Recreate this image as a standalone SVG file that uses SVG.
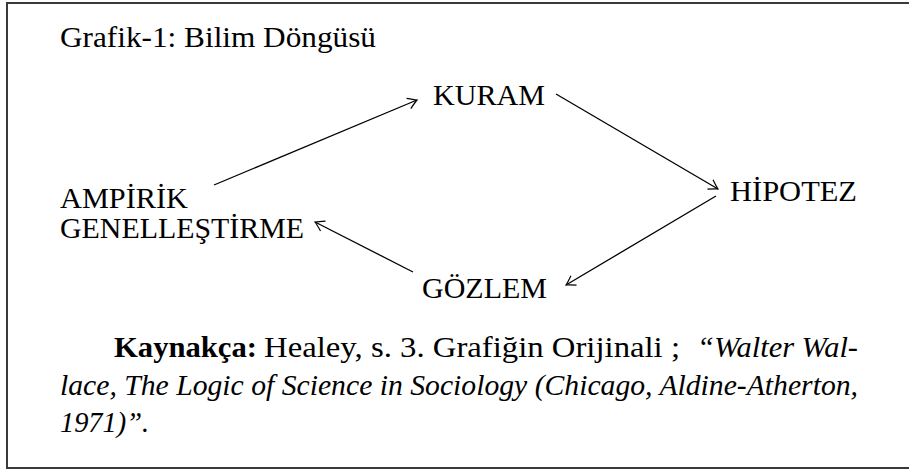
<svg xmlns="http://www.w3.org/2000/svg" width="909" height="470" viewBox="0 0 909 470">
<style>
text{font-family:"Liberation Serif",serif;fill:#000}
.b{font-weight:bold}
.i{font-style:italic}
.edge{stroke:#000;stroke-width:1.3;fill:none}
</style>
<defs>
<marker id="ah" markerUnits="userSpaceOnUse" markerWidth="20" markerHeight="20" refX="0" refY="0" viewBox="-12 -10 14 20" orient="auto" overflow="visible">
<path d="M -9 -5.5 Q -3 -1.5 0 0 Q -3 1.5 -9 5.5" fill="none" stroke="#000" stroke-width="1.2"/>
</marker>
</defs>
<rect x="7" y="3" width="910" height="465" fill="#fff" stroke="#3a3a3a" stroke-width="2"/>
<g font-size="29.5">
<text id="title" x="60" y="47" textLength="316" lengthAdjust="spacingAndGlyphs">Grafik-1: Bilim Döngüsü</text>
<g id="kuram"><text x="433" y="105" textLength="112" lengthAdjust="spacingAndGlyphs">KURAM</text></g>
<g id="hipotez"><text x="730" y="201" textLength="127" lengthAdjust="spacingAndGlyphs">HİPOTEZ</text></g>
<g id="ampirik"><text x="60" y="208" textLength="128" lengthAdjust="spacingAndGlyphs">AMPİRİK</text><text x="60" y="238" textLength="244" lengthAdjust="spacingAndGlyphs">GENELLEŞTİRME</text></g>
<g id="gozlem"><text x="422" y="298" textLength="125" lengthAdjust="spacingAndGlyphs">GÖZLEM</text></g>
</g>
<g id="connectors">
<line class="edge" x1="214" y1="185" x2="417" y2="100" marker-end="url(#ah)"/>
<line class="edge" x1="556" y1="94" x2="718" y2="189" marker-end="url(#ah)"/>
<line class="edge" x1="716" y1="196" x2="566" y2="285" marker-end="url(#ah)"/>
<line class="edge" x1="413" y1="272" x2="315" y2="222" marker-end="url(#ah)"/>
</g>
<g id="caption" font-size="29.5">
<text class="b" x="114" y="357" textLength="143" lengthAdjust="spacingAndGlyphs">Kaynakça:</text>
<text x="264" y="357" textLength="416" lengthAdjust="spacingAndGlyphs">Healey, s. 3. Grafiğin Orijinali ;</text>
<text class="i" x="697" y="357" textLength="161" lengthAdjust="spacingAndGlyphs">“Walter Wal-</text>
<text class="i" x="60" y="395" textLength="798" lengthAdjust="spacingAndGlyphs">lace, The Logic of Science in Sociology (Chicago, Aldine-Atherton,</text>
<text class="i" x="60" y="432" textLength="89" lengthAdjust="spacingAndGlyphs">1971)”.</text>
</g>
</svg>
